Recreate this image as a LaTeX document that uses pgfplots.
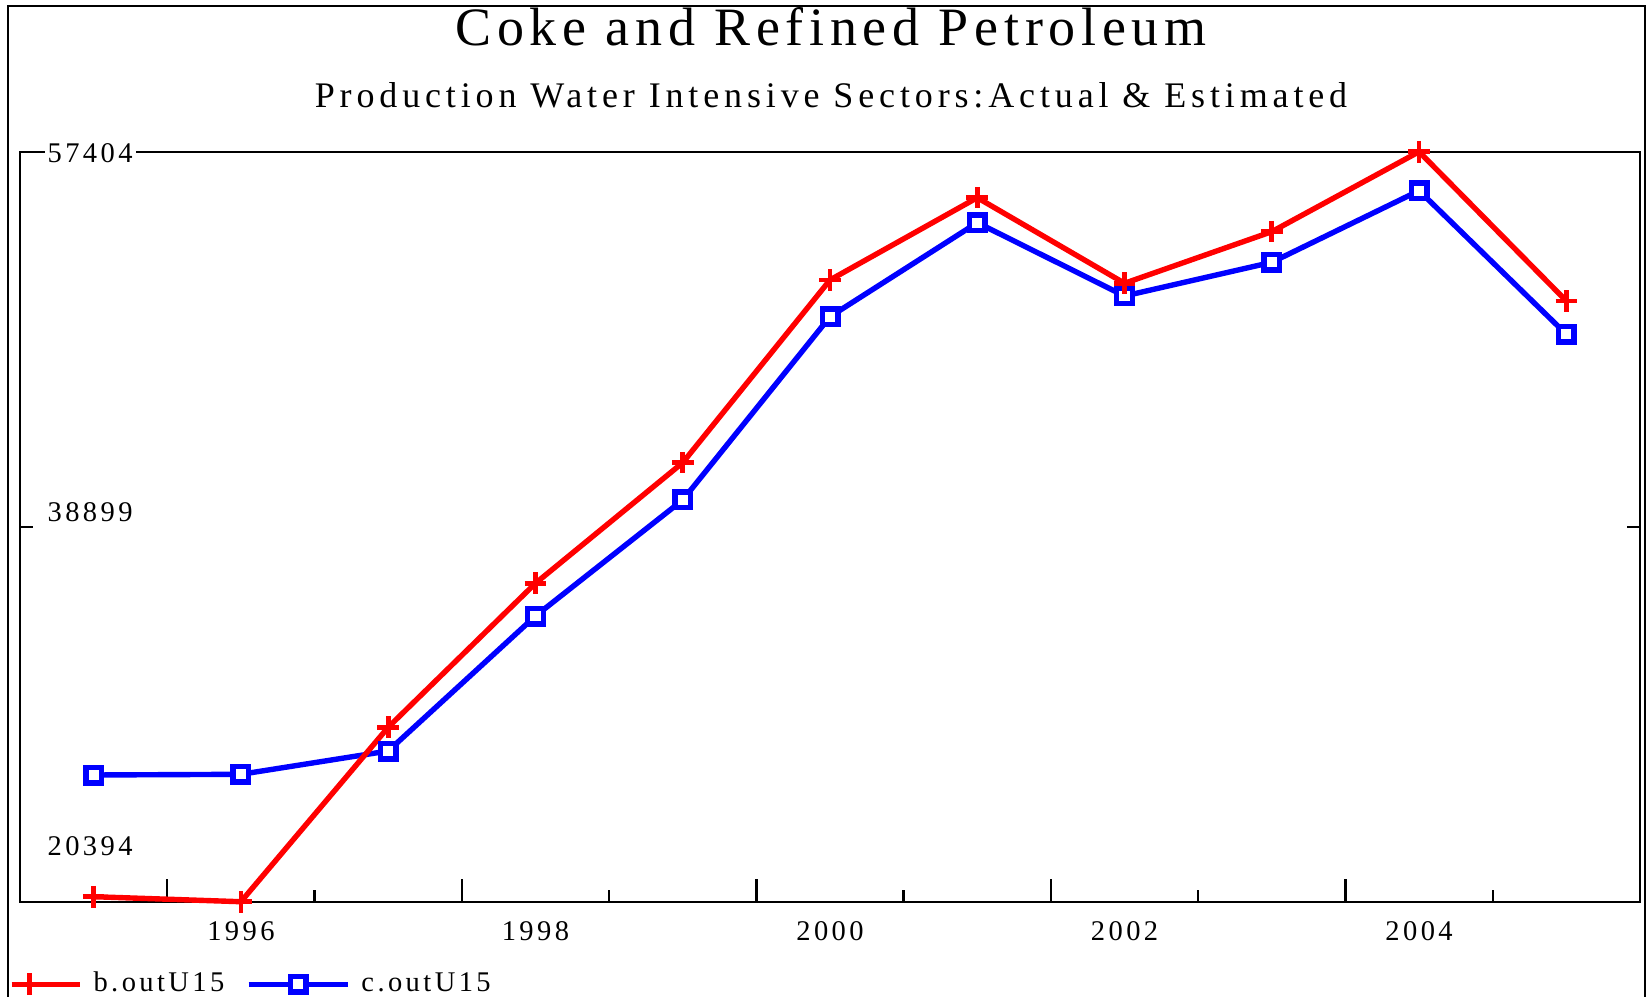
\documentclass[border=0pt]{standalone}
\usepackage{fontspec}
\setmainfont{Liberation Serif}
\newfontfamily\spaced[LetterSpace=12]{Liberation Serif}
\newfontfamily\titlefont[LetterSpace=10.6]{Liberation Serif}
\newfontfamily\subfont[LetterSpace=13.5]{Liberation Serif}
\usepackage{pgfplots}
\pgfplotsset{compat=1.18}

\definecolor{pr}{RGB}{255,0,0}
\definecolor{pb}{RGB}{0,0,255}

\pgfplotsset{
  redleg/.style={legend image code/.code={
    \draw[##1, mark=none] (0pt,0pt) -- (22.7pt,0pt);
    \draw[##1] plot coordinates {(6pt,0pt)};}},
  blueleg/.style={legend image code/.code={
    \draw[##1, mark=none] (0pt,0pt) -- (33pt,0pt);
    \draw[##1] plot coordinates {(16.5pt,0pt)};}},
}

\begin{document}
\begin{tikzpicture}
\path[use as bounding box] (0pt,0pt) rectangle (549.67pt,-332.33pt);
% outer frame
\draw[line width=0.6pt] (2.67pt,-334pt) -- (2.67pt,-2pt) -- (548.33pt,-2pt) -- (548.33pt,-334pt);
\node[anchor=base, inner sep=0pt, font=\titlefont\fontsize{18}{20}\selectfont] at (277pt,-15.2pt) {Coke and Refined Petroleum};
\node[anchor=base, inner sep=0pt, font=\subfont\fontsize{12}{14}\selectfont] at (277pt,-35.9pt) {Production Water Intensive Sectors:Actual \& Estimated};

\begin{axis}[
  at={(6.667pt,-300.57pt)}, anchor=south west,
  scale only axis, width=540pt, height=250pt,
  xmin=1994.5, xmax=2005.5, ymin=20394, ymax=57404,
  clip=false,
  axis line style={line width=0.8pt},
  tick align=inside,
  tick style={black, line width=0.8pt},
  xtick pos=lower,
  xtick={1995.5,1997.5,1999.5,2001.5,2003.5},
  xticklabels={},
  minor xtick={1996.5,1998.5,2000.5,2002.5,2004.5},
  major tick length=7.67pt, minor tick length=4pt,
  extra x ticks={1996,1998,2000,2002,2004},
  extra x tick labels={1996,1998,2000,2002,2004},
  extra x tick style={major tick length=0pt},
  xticklabel style={font=\spaced\fontsize{9.5}{11}\selectfont, anchor=base, yshift=-12.8pt},
  ytick=\empty,
  extra y ticks={38899},
  extra y tick labels={},
  extra y tick style={major tick length=4.5pt, ytick pos=both},
  reverse legend,
  legend columns=2,
  legend style={draw=none, fill=none, inner sep=0pt, outer sep=0pt,
    at={(-0.0068,-0.110)}, anchor=west,
    font=\spaced\fontsize{9.5}{11}\selectfont,
    nodes={inner sep=0pt},
    /tikz/every odd column/.append style={column sep=3.7pt},
    /tikz/every even column/.append style={column sep=7.2pt}},
]
\addplot[pb, line width=1.8pt, mark=square*, mark size=2.6pt,
  mark options={solid, fill=white, line width=1.8pt}, blueleg]
coordinates {
  (1995,26647) (1996,26681) (1997,27831) (1998,34493) (1999,40218)
  (2000,49264) (2001,53903) (2002,50285) (2003,51948) (2004,55482) (2005,48395)
};
\addlegendentry{c.outU15}
\addplot[pr, line width=1.8pt, mark=+, mark size=3.6pt,
  mark options={solid, line width=1.6pt}, redleg]
coordinates {
  (1995,20641) (1996,20394) (1997,29001) (1998,36107) (1999,42059)
  (2000,51075) (2001,55136) (2002,50912) (2003,53459) (2004,57404) (2005,50039)
};
\addlegendentry{b.outU15}
\end{axis}

% y tick labels, set inside the axis box as in the original
\node[anchor=base west, inner sep=1pt, fill=white, font=\spaced\fontsize{9.5}{11}\selectfont] at (14.67pt,-54.2pt) {57404};
\node[anchor=base west, inner sep=0pt, font=\spaced\fontsize{9.5}{11}\selectfont] at (15.67pt,-173.9pt) {38899};
\node[anchor=base west, inner sep=0pt, font=\spaced\fontsize{9.5}{11}\selectfont] at (15.67pt,-285pt) {20394};
\end{tikzpicture}
\end{document}
